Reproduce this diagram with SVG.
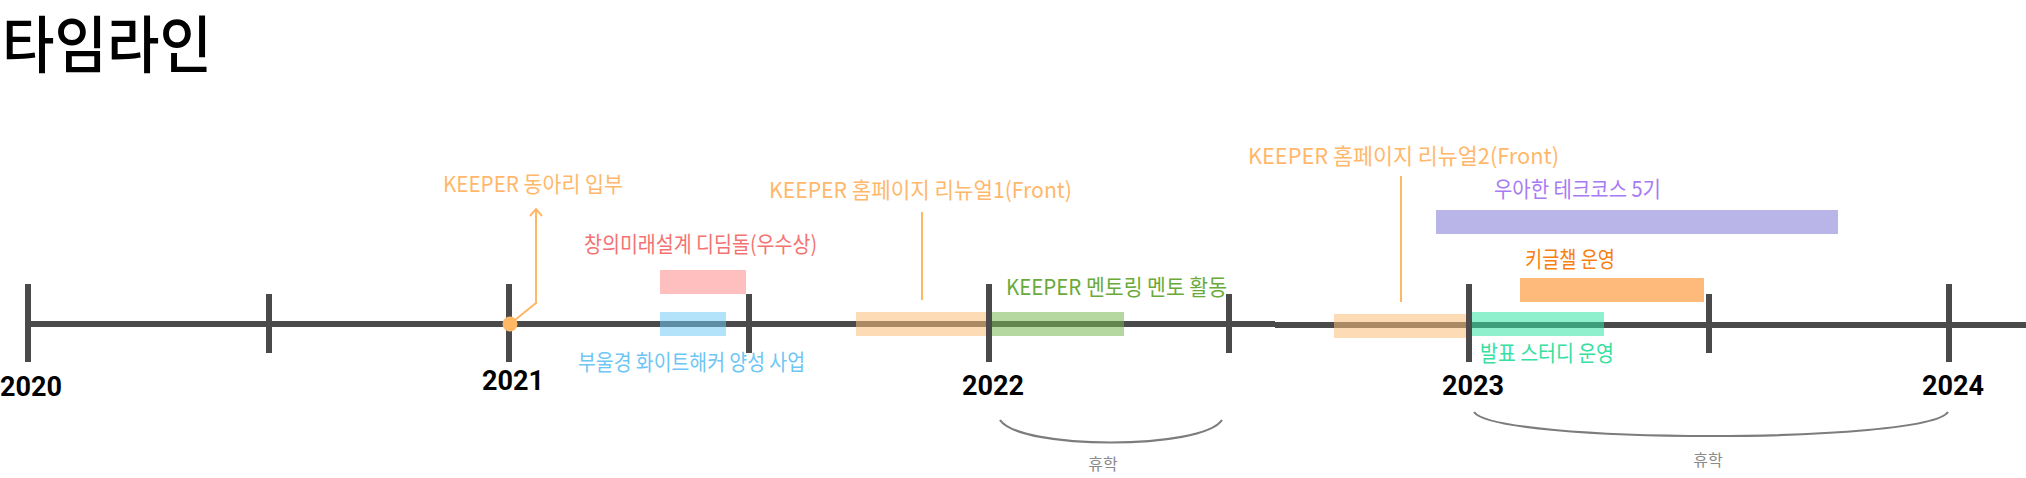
<svg xmlns="http://www.w3.org/2000/svg" width="2026" height="478" viewBox="0 0 2026 478">
<style>
.hand{font-family:"Noto Sans CJK KR","Noto Sans",sans-serif;font-size:22px;}
.year{font-family:Roboto,"Liberation Sans",sans-serif;font-weight:700;font-size:27px;fill:#000;text-anchor:middle;}
.tick{stroke:#4a4a4a;stroke-width:6;}
.axis{stroke:#4a4a4a;stroke-width:6;fill:none;}
.brace{stroke:#7c7c7c;stroke-width:2.2;fill:none;}
.rest{font-family:"Noto Sans CJK KR",sans-serif;font-size:16px;fill:#8a8a8a;text-anchor:middle;}
.lead{stroke:#ffb866;stroke-width:2;fill:none;}
</style>
<defs>
<marker id="open" viewBox="0 0 14 14" refX="12" refY="7" markerWidth="14" markerHeight="14" markerUnits="userSpaceOnUse" orient="auto">
<path d="M5,1 L12,7 L5,13" fill="none" stroke="#ffb866" stroke-width="2"/>
</marker>
</defs>
<rect width="2026" height="478" fill="#fff"/>
<text x="2" y="68" font-family="'Noto Sans CJK KR',sans-serif" font-size="62" font-weight="500" fill="#000" textLength="210" lengthAdjust="spacingAndGlyphs">타임라인</text>

<g id="axis">
<line class="axis" x1="28" y1="324" x2="1275" y2="324"/>
<line class="axis" x1="1275" y1="325" x2="2026" y2="325"/>
</g>

<g id="event-burrulgyeong">
<rect x="660" y="312" width="66" height="24" fill="#6fcaf7" fill-opacity="0.53"/>
<text class="hand" x="578" y="370" fill="#6ec6f5" textLength="227" lengthAdjust="spacingAndGlyphs">부울경 화이트해커 양성 사업</text>
</g>
<g id="event-didimdol">
<rect x="660" y="270" width="86" height="24" fill="#ffbfbf"/>
<text class="hand" x="584" y="252" fill="#f47272" textLength="233" lengthAdjust="spacingAndGlyphs">창의미래설계 디딤돌(우수상)</text>
</g>
<g id="event-renewal1">
<rect x="856" y="312" width="131" height="24" fill="#fbbf78" fill-opacity="0.55"/>
<text class="hand" x="769" y="198" fill="#ffb86b" textLength="303" lengthAdjust="spacingAndGlyphs">KEEPER 홈페이지 리뉴얼1(Front)</text>
</g>
<g id="event-mentoring">
<rect x="991" y="312" width="133" height="24" fill="#78b652" fill-opacity="0.55"/>
<text class="hand" x="1006" y="295" fill="#6aaa3b" textLength="221" lengthAdjust="spacingAndGlyphs">KEEPER 멘토링 멘토 활동</text>
</g>
<g id="event-renewal2">
<rect x="1334" y="314" width="133" height="24" fill="#fbbf78" fill-opacity="0.55"/>
<text class="hand" x="1248" y="164" fill="#ffb86b" textLength="311" lengthAdjust="spacingAndGlyphs">KEEPER 홈페이지 리뉴얼2(Front)</text>
</g>
<g id="event-woowa">
<rect x="1436" y="210" width="402" height="24" fill="#b9b5e9"/>
<text class="hand" x="1494" y="197" fill="#a77bf3" textLength="167" lengthAdjust="spacingAndGlyphs">우아한 테크코스 5기</text>
</g>
<g id="event-kigeulchael">
<rect x="1520" y="278" width="184" height="24" fill="#fdba7b"/>
<text class="hand" x="1525" y="267" fill="#f88010" textLength="90" lengthAdjust="spacingAndGlyphs">키글챌 운영</text>
</g>
<g id="event-study">
<rect x="1472" y="312" width="132" height="24" fill="#31e3a2" fill-opacity="0.55"/>
<text class="hand" x="1480" y="361" fill="#36e0a0" textLength="134" lengthAdjust="spacingAndGlyphs">발표 스터디 운영</text>
</g>

<g id="ticks">
<line class="tick" x1="28" y1="284" x2="28" y2="362"/>
<line class="tick" x1="269" y1="294" x2="269" y2="353"/>
<line class="tick" x1="509" y1="284" x2="509" y2="362"/>
<line class="tick" x1="749" y1="294" x2="749" y2="353"/>
<line class="tick" x1="989" y1="284" x2="989" y2="362"/>
<line class="tick" x1="1229" y1="294" x2="1229" y2="353"/>
<line class="tick" x1="1469" y1="284" x2="1469" y2="362"/>
<line class="tick" x1="1709" y1="294" x2="1709" y2="353"/>
<line class="tick" x1="1949" y1="284" x2="1949" y2="362"/>
</g>

<g id="years">
<text class="year" x="31" y="396">2020</text>
<text class="year" x="513" y="390">2021</text>
<text class="year" x="993" y="395">2022</text>
<text class="year" x="1473" y="395">2023</text>
<text class="year" x="1953" y="395">2024</text>
</g>

<g id="event-join">
<circle cx="510" cy="324" r="7.5" fill="#ffb866"/>
<text class="hand" x="443" y="192" fill="#ffb86b" textLength="180" lengthAdjust="spacingAndGlyphs">KEEPER 동아리 입부</text>
</g>

<g id="connectors">
<path class="lead" d="M510,324 L536,303 L536,209" marker-end="url(#open)"/>
<line class="lead" x1="922" y1="212" x2="922" y2="300"/>
<line class="lead" x1="1401" y1="176" x2="1401" y2="302"/>
</g>

<g id="leave1">
<path class="brace" d="M1000,420 C1020,450 1202,450 1222,420"/>
<text class="rest" x="1103" y="470">휴학</text>
</g>
<g id="leave2">
<path class="brace" d="M1474,412 C1496,444 1926,444 1948,412"/>
<text class="rest" x="1708" y="466">휴학</text>
</g>
</svg>
